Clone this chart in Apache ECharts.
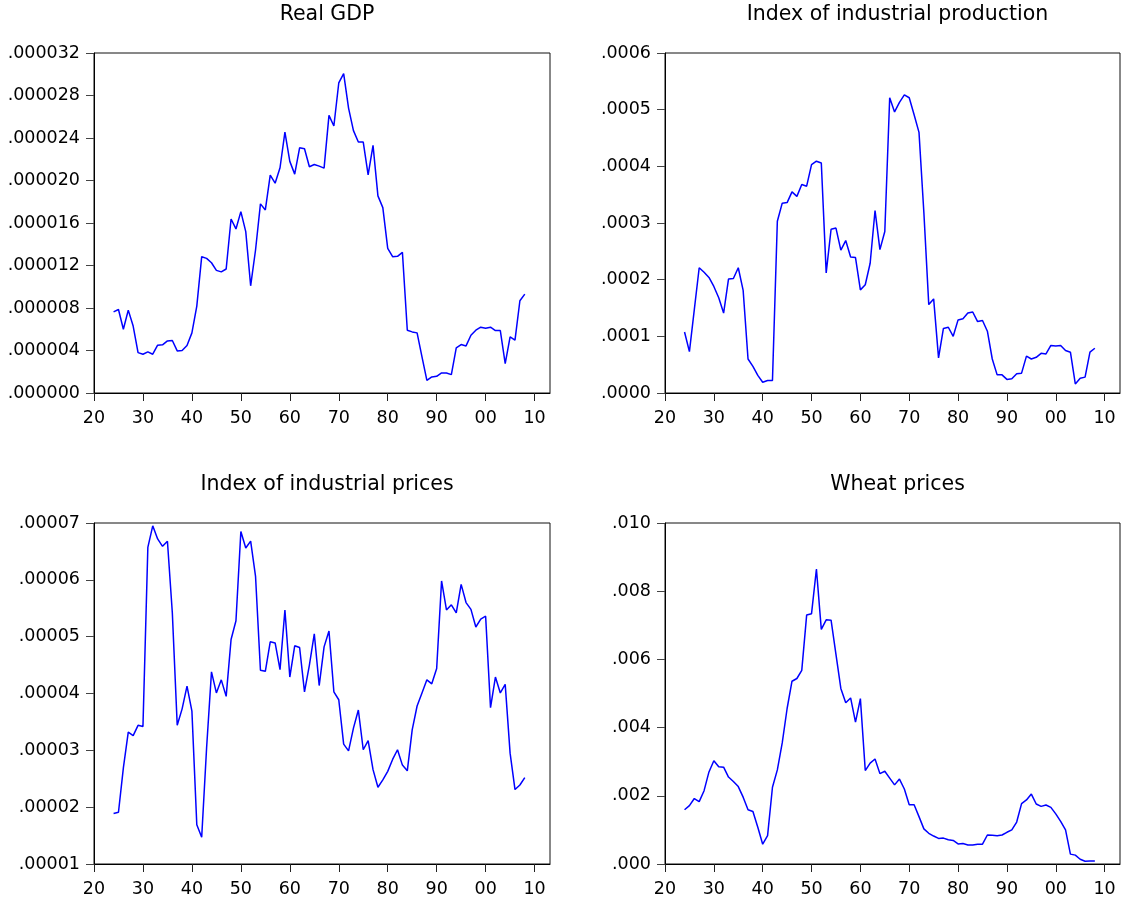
<!DOCTYPE html>
<html>
<head>
<meta charset="utf-8">
<title>Real GDP, industrial production, industrial prices and wheat prices</title>
<script src="https://cdn.jsdelivr.net/npm/echarts@6/dist/echarts.min.js"></script>
<style>
  html, body { margin: 0; padding: 0; background: #fff; }
  #chart { width: 1122px; height: 899px; }
</style>
</head>
<body>
<div id="chart"></div>
<script>
// Annual observations, 1924-2008
const years = [
  1924, 1925, 1926, 1927, 1928, 1929, 1930, 1931, 1932, 1933,
  1934, 1935, 1936, 1937, 1938, 1939, 1940, 1941, 1942, 1943,
  1944, 1945, 1946, 1947, 1948, 1949, 1950, 1951, 1952, 1953,
  1954, 1955, 1956, 1957, 1958, 1959, 1960, 1961, 1962, 1963,
  1964, 1965, 1966, 1967, 1968, 1969, 1970, 1971, 1972, 1973,
  1974, 1975, 1976, 1977, 1978, 1979, 1980, 1981, 1982, 1983,
  1984, 1985, 1986, 1987, 1988, 1989, 1990, 1991, 1992, 1993,
  1994, 1995, 1996, 1997, 1998, 1999, 2000, 2001, 2002, 2003,
  2004, 2005, 2006, 2007, 2008
];

const realGdp = [
  7.64e-6, 7.86e-6, 6.00e-6, 7.80e-6, 6.30e-6, 3.80e-6, 3.65e-6, 3.87e-6, 3.65e-6, 4.50e-6,
  4.53e-6, 4.90e-6, 4.94e-6, 3.96e-6, 4.00e-6, 4.47e-6, 5.66e-6, 8.18e-6, 12.83e-6, 12.67e-6,
  12.26e-6, 11.54e-6, 11.40e-6, 11.67e-6, 16.38e-6, 15.44e-6, 17.07e-6, 15.19e-6, 10.09e-6, 13.46e-6,
  17.80e-6, 17.23e-6, 20.50e-6, 19.75e-6, 21.20e-6, 24.56e-6, 21.80e-6, 20.60e-6, 23.08e-6, 22.99e-6,
  21.30e-6, 21.50e-6, 21.35e-6, 21.16e-6, 26.13e-6, 25.13e-6, 29.18e-6, 30.06e-6, 26.82e-6, 24.69e-6,
  23.62e-6, 23.62e-6, 20.53e-6, 23.30e-6, 18.55e-6, 17.45e-6, 13.62e-6, 12.83e-6, 12.86e-6, 13.24e-6,
  5.91e-6, 5.75e-6, 5.66e-6, 3.40e-6, 1.19e-6, 1.51e-6, 1.57e-6, 1.89e-6, 1.89e-6, 1.73e-6,
  4.25e-6, 4.56e-6, 4.43e-6, 5.44e-6, 5.91e-6, 6.19e-6, 6.10e-6, 6.19e-6, 5.88e-6, 5.88e-6,
  2.77e-6, 5.28e-6, 4.97e-6, 8.68e-6, 9.31e-6
];

const industrialProduction = [
  1.076e-4, 0.73e-4, 1.47e-4, 2.21e-4, 2.13e-4, 2.04e-4, 1.88e-4, 1.68e-4, 1.41e-4, 2.01e-4,
  2.02e-4, 2.21e-4, 1.81e-4, 0.60e-4, 0.47e-4, 0.31e-4, 0.19e-4, 0.22e-4, 0.22e-4, 3.03e-4,
  3.35e-4, 3.36e-4, 3.55e-4, 3.47e-4, 3.68e-4, 3.65e-4, 4.03e-4, 4.09e-4, 4.06e-4, 2.12e-4,
  2.89e-4, 2.91e-4, 2.52e-4, 2.69e-4, 2.40e-4, 2.39e-4, 1.82e-4, 1.91e-4, 2.29e-4, 3.22e-4,
  2.53e-4, 2.85e-4, 5.21e-4, 4.96e-4, 5.13e-4, 5.26e-4, 5.21e-4, 4.91e-4, 4.60e-4, 3.18e-4,
  1.56e-4, 1.66e-4, 0.62e-4, 1.14e-4, 1.16e-4, 1.00e-4, 1.29e-4, 1.31e-4, 1.41e-4, 1.43e-4,
  1.26e-4, 1.28e-4, 1.09e-4, 0.60e-4, 0.32e-4, 0.32e-4, 0.24e-4, 0.25e-4, 0.34e-4, 0.35e-4,
  0.65e-4, 0.60e-4, 0.63e-4, 0.70e-4, 0.69e-4, 0.84e-4, 0.83e-4, 0.84e-4, 0.75e-4, 0.72e-4,
  0.16e-4, 0.26e-4, 0.28e-4, 0.72e-4, 0.79e-4
];

const industrialPrices = [
  1.89e-5, 1.91e-5, 2.69e-5, 3.32e-5, 3.26e-5, 3.44e-5, 3.42e-5, 6.57e-5, 6.95e-5, 6.72e-5,
  6.59e-5, 6.68e-5, 5.42e-5, 3.44e-5, 3.73e-5, 4.13e-5, 3.69e-5, 1.69e-5, 1.47e-5, 3.04e-5,
  4.38e-5, 4.01e-5, 4.24e-5, 3.95e-5, 4.95e-5, 5.28e-5, 6.85e-5, 6.56e-5, 6.68e-5, 6.06e-5,
  4.41e-5, 4.39e-5, 4.91e-5, 4.89e-5, 4.42e-5, 5.47e-5, 4.29e-5, 4.84e-5, 4.81e-5, 4.03e-5,
  4.50e-5, 5.05e-5, 4.14e-5, 4.82e-5, 5.10e-5, 4.03e-5, 3.89e-5, 3.11e-5, 2.99e-5, 3.39e-5,
  3.71e-5, 3.01e-5, 3.17e-5, 2.66e-5, 2.35e-5, 2.48e-5, 2.63e-5, 2.84e-5, 3.01e-5, 2.74e-5,
  2.64e-5, 3.36e-5, 3.78e-5, 4.01e-5, 4.24e-5, 4.17e-5, 4.44e-5, 5.98e-5, 5.47e-5, 5.56e-5,
  5.42e-5, 5.92e-5, 5.60e-5, 5.48e-5, 5.17e-5, 5.31e-5, 5.36e-5, 3.75e-5, 4.29e-5, 4.01e-5,
  4.16e-5, 2.95e-5, 2.31e-5, 2.39e-5, 2.52e-5
];

const wheatPrices = [
  1.59e-3, 1.71e-3, 1.92e-3, 1.83e-3, 2.15e-3, 2.70e-3, 3.03e-3, 2.85e-3, 2.84e-3, 2.55e-3,
  2.42e-3, 2.27e-3, 1.96e-3, 1.59e-3, 1.54e-3, 1.08e-3, 0.58e-3, 0.83e-3, 2.25e-3, 2.76e-3,
  3.55e-3, 4.56e-3, 5.36e-3, 5.44e-3, 5.68e-3, 7.30e-3, 7.34e-3, 8.65e-3, 6.88e-3, 7.16e-3,
  7.15e-3, 6.15e-3, 5.15e-3, 4.73e-3, 4.87e-3, 4.16e-3, 4.85e-3, 2.74e-3, 2.96e-3, 3.08e-3,
  2.65e-3, 2.72e-3, 2.52e-3, 2.32e-3, 2.49e-3, 2.20e-3, 1.74e-3, 1.74e-3, 1.39e-3, 1.03e-3,
  0.90e-3, 0.82e-3, 0.75e-3, 0.76e-3, 0.71e-3, 0.69e-3, 0.59e-3, 0.60e-3, 0.56e-3, 0.56e-3,
  0.58e-3, 0.58e-3, 0.85e-3, 0.84e-3, 0.83e-3, 0.85e-3, 0.93e-3, 1.00e-3, 1.23e-3, 1.77e-3,
  1.88e-3, 2.05e-3, 1.76e-3, 1.69e-3, 1.73e-3, 1.66e-3, 1.47e-3, 1.25e-3, 1.00e-3, 0.29e-3,
  0.26e-3, 0.14e-3, 0.08e-3, 0.09e-3, 0.09e-3
];

// Decade ticks on the time axis, shown as two-digit years
const decadeTicks = [1920, 1930, 1940, 1950, 1960, 1970, 1980, 1990, 2000, 2010];

const panels = [
  { title: 'Real GDP', values: realGdp, yMin: 0, yMax: 0.000032, yStep: 0.000004, digits: 6 },
  { title: 'Index of industrial production', values: industrialProduction, yMin: 0, yMax: 0.0006, yStep: 0.0001, digits: 4 },
  { title: 'Index of industrial prices', values: industrialPrices, yMin: 0.00001, yMax: 0.00007, yStep: 0.00001, digits: 5 },
  { title: 'Wheat prices', values: wheatPrices, yMin: 0, yMax: 0.010, yStep: 0.002, digits: 3 }
];

// Plot boxes: two columns, two rows
const boxes = [
  { left: 94, top: 53, width: 456, height: 340 },
  { left: 665, top: 53, width: 455, height: 340 },
  { left: 94, top: 523, width: 456, height: 341 },
  { left: 665, top: 523, width: 455, height: 341 }
];

const labelFont = { fontFamily: 'DejaVu Sans', fontSize: 17.5, color: '#000' };

const chart = echarts.init(document.getElementById('chart'), null, { renderer: 'canvas' });

const option = {
  backgroundColor: '#fff',
  animation: false,
  title: panels.map((p, i) => ({
    text: p.title,
    left: boxes[i].left + boxes[i].width / 2,
    top: boxes[i].top - 54,
    textAlign: 'center',
    textStyle: { fontFamily: 'DejaVu Sans', fontSize: 20.5, fontWeight: 'normal', color: '#000' }
  })),
  grid: boxes.map(b => ({
    left: b.left, top: b.top, width: b.width, height: b.height,
    show: true, borderColor: '#111', borderWidth: 1, backgroundColor: '#fff'
  })),
  xAxis: panels.map((p, i) => ({
    type: 'value',
    gridIndex: i,
    min: 1920,
    max: 2013.15,
    splitLine: { show: false },
    axisLine: { show: true, onZero: false, lineStyle: { color: '#000', width: 1 } },
    axisTick: { show: true, length: 8, customValues: decadeTicks, lineStyle: { color: '#222' } },
    axisLabel: Object.assign({
      customValues: decadeTicks,
      margin: 16,
      formatter: v => String(Math.round(v) % 100).padStart(2, '0')
    }, labelFont)
  })),
  yAxis: panels.map((p, i) => ({
    type: 'value',
    gridIndex: i,
    min: p.yMin,
    max: p.yMax,
    interval: p.yStep,
    splitLine: { show: false },
    axisLine: { show: true, onZero: false, lineStyle: { color: '#000', width: 1 } },
    axisTick: { show: true, length: 8, lineStyle: { color: '#444' } },
    axisLabel: Object.assign({
      margin: 14,
      formatter: v => v.toFixed(p.digits).replace(/^0\./, '.')
    }, labelFont)
  })),
  series: panels.map((p, i) => ({
    type: 'line',
    name: p.title,
    xAxisIndex: i,
    yAxisIndex: i,
    data: years.map((y, k) => [y, p.values[k]]),
    showSymbol: false,
    symbol: 'none',
    lineStyle: { color: '#0000ff', width: 1.5 },
    silent: true
  }))
};

chart.setOption(option);
</script>
</body>
</html>
